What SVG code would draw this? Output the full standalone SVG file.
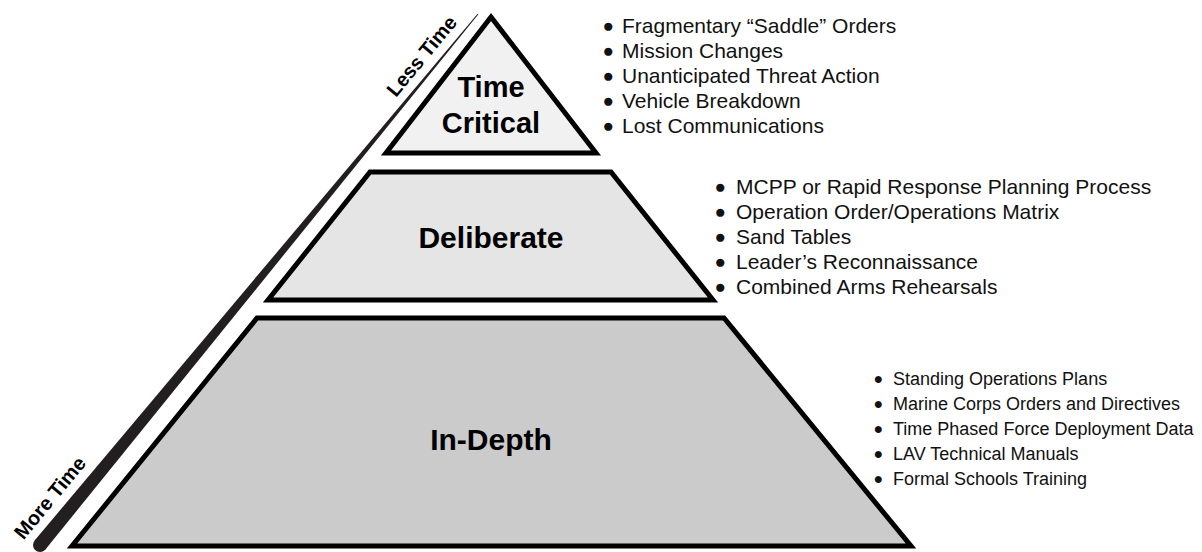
<svg xmlns="http://www.w3.org/2000/svg" width="1202" height="552" viewBox="0 0 1202 552">
  <style>
    .tier { stroke: #000; stroke-width: 5; stroke-linejoin: miter; }
    .head { font-family: "Liberation Sans", Arial, sans-serif; font-weight: bold; font-size: 29px; fill: #000; text-anchor: middle; }
    .axis-lbl { font-family: "Liberation Sans", Arial, sans-serif; font-weight: bold; font-size: 20px; fill: #000; }
    .li { font-family: "Liberation Sans", Arial, sans-serif; font-size: 21px; fill: #111; }
    .li-s { font-family: "Liberation Sans", Arial, sans-serif; font-size: 18px; fill: #111; }
    .b { font-size: 19px; }
    .b-s { font-size: 16px; }
  </style>

  <g id="axis">
    <polygon points="477.6,13.7 478.4,14.3 45.4,549.5 34.6,540.5" fill="#231f20"/>
    <circle cx="40" cy="545" r="7" fill="#231f20"/>
    <text class="axis-lbl" transform="translate(396,98) rotate(-50.5)">Less Time</text>
    <text class="axis-lbl" transform="translate(23.6,540.5) rotate(-50.5)">More Time</text>
  </g>

  <g id="node-time-critical">
    <polygon class="tier" points="491,17 596,153 386,153" fill="#f1f1f1"/>
    <text class="head" x="491" y="97">Time</text>
    <text class="head" x="491" y="133">Critical</text>
    <g id="list-time-critical">
      <text class="li" y="33"><tspan class="b" x="602.5" dy="-1">●</tspan><tspan x="622" dy="1">Fragmentary “Saddle” Orders</tspan></text>
      <text class="li" y="58"><tspan class="b" x="602.5" dy="-1">●</tspan><tspan x="622" dy="1">Mission Changes</tspan></text>
      <text class="li" y="83"><tspan class="b" x="602.5" dy="-1">●</tspan><tspan x="622" dy="1">Unanticipated Threat Action</tspan></text>
      <text class="li" y="108"><tspan class="b" x="602.5" dy="-1">●</tspan><tspan x="622" dy="1">Vehicle Breakdown</tspan></text>
      <text class="li" y="133"><tspan class="b" x="602.5" dy="-1">●</tspan><tspan x="622" dy="1">Lost Communications</tspan></text>
    </g>
  </g>

  <g id="node-deliberate">
    <polygon class="tier" points="370,172 611,172 713,300 268,300" fill="#e5e5e5"/>
    <text class="head" x="491" y="248" style="font-size:30px">Deliberate</text>
    <g id="list-deliberate">
      <text class="li" y="194"><tspan class="b" x="714.5" dy="-1">●</tspan><tspan x="736" dy="1">MCPP or Rapid Response Planning Process</tspan></text>
      <text class="li" y="219"><tspan class="b" x="714.5" dy="-1">●</tspan><tspan x="736" dy="1">Operation Order/Operations Matrix</tspan></text>
      <text class="li" y="244"><tspan class="b" x="714.5" dy="-1">●</tspan><tspan x="736" dy="1">Sand Tables</tspan></text>
      <text class="li" y="269"><tspan class="b" x="714.5" dy="-1">●</tspan><tspan x="736" dy="1">Leader’s Reconnaissance</tspan></text>
      <text class="li" y="294"><tspan class="b" x="714.5" dy="-1">●</tspan><tspan x="736" dy="1">Combined Arms Rehearsals</tspan></text>
    </g>
  </g>

  <g id="node-in-depth">
    <polygon class="tier" points="257,318 724,318 911,546 72,546" fill="#cbcbcb"/>
    <text class="head" x="491" y="450" style="font-size:30px">In-Depth</text>
    <g id="list-in-depth">
      <text class="li-s" y="385"><tspan class="b-s" x="873.5" dy="-1">●</tspan><tspan x="893" dy="1">Standing Operations Plans</tspan></text>
      <text class="li-s" y="410"><tspan class="b-s" x="873.5" dy="-1">●</tspan><tspan x="893" dy="1">Marine Corps Orders and Directives</tspan></text>
      <text class="li-s" y="435"><tspan class="b-s" x="873.5" dy="-1">●</tspan><tspan x="893" dy="1">Time Phased Force Deployment Data</tspan></text>
      <text class="li-s" y="460"><tspan class="b-s" x="873.5" dy="-1">●</tspan><tspan x="893" dy="1">LAV Technical Manuals</tspan></text>
      <text class="li-s" y="485"><tspan class="b-s" x="873.5" dy="-1">●</tspan><tspan x="893" dy="1">Formal Schools Training</tspan></text>
    </g>
  </g>

  <g id="connectors"/>
</svg>
